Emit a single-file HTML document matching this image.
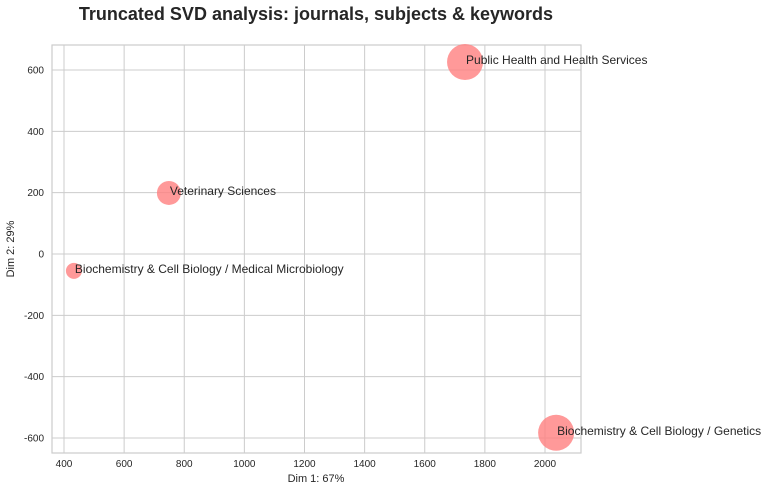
<!DOCTYPE html>
<html><head><meta charset="utf-8"><style>
body{margin:0;background:#fff;font-family:"Liberation Sans",sans-serif;}
svg text{font-family:"Liberation Sans",sans-serif;}
</style></head><body>
<svg id="chart" width="768" height="491"></svg>
<script>
const labels=["Public Health and Health Services","Veterinary Sciences","Biochemistry & Cell Biology / Medical Microbiology","Biochemistry & Cell Biology / Genetics"];
const dim1=[1734,749,433,2037];
const dim2=[626,199,-55,-583];
const sizes=[18,12,8,18];
const xTicks=[400,600,800,1000,1200,1400,1600,1800,2000];
const yTicks=[-600,-400,-200,0,200,400,600];
const NS="http://www.w3.org/2000/svg";
const svg=document.getElementById('chart');
const L=52,R=581,T=45,B=453;
const xs=v=>64+(v-400)*(481/1600);
const ys=v=>70+(600-v)*(368/1200);
function mk(tag,attrs,parent){const e=document.createElementNS(NS,tag);for(const k in attrs)e.setAttribute(k,attrs[k]);(parent||svg).appendChild(e);return e;}
const title=mk('text',{x:316,y:20,'text-anchor':'middle','font-size':18,'font-weight':'bold',fill:'#262626'});
title.textContent="Truncated SVD analysis: journals, subjects & keywords";


const grid=mk('g',{});


xTicks.forEach(t=>{const x=xs(t);
 mk('line',{x1:x,x2:x,y1:T,y2:B,stroke:'#cccccc','stroke-width':1},grid);
 const tx=mk('text',{x:x,y:467,'text-anchor':'middle','font-size':10,fill:'#262626'});tx.textContent=t;
 
 
});
yTicks.forEach(t=>{const y=ys(t);
 mk('line',{x1:L,x2:R,y1:y,y2:y,stroke:'#cccccc','stroke-width':1},grid);
 const tx=mk('text',{x:44,y:y+3.5,'text-anchor':'end','font-size':10,fill:'#262626'});tx.textContent=t;
 
 
});
const frame=mk('rect',{x:L,y:T,width:R-L,height:B-T,fill:'none',stroke:'#cccccc','stroke-width':1.2});


dim1.forEach((v,i)=>{
 const c=mk('circle',{cx:xs(v),cy:ys(dim2[i]),r:sizes[i],fill:'#ff7f7f','fill-opacity':0.8});
 
 
 const tx=mk('text',{x:xs(v)+1,y:ys(dim2[i])+2,'font-size':12,fill:'#262626'});tx.textContent=labels[i];
 
 
});
const xt=mk('text',{x:316,y:482,'text-anchor':'middle','font-size':11,fill:'#262626'});xt.textContent="Dim 1: 67%";


const yt=mk('text',{x:14,y:249,'text-anchor':'middle','font-size':11,fill:'#262626',transform:'rotate(-90 14 249)'});yt.textContent="Dim 2: 29%";


</script>
</body></html>
